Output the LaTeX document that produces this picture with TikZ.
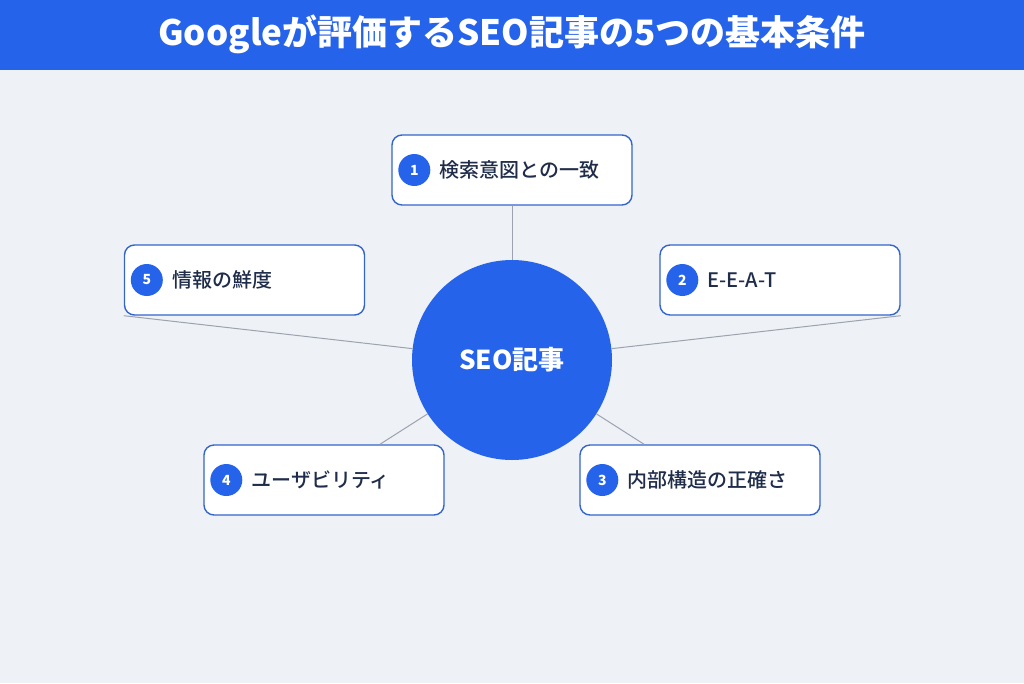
\documentclass[tikz,border=0pt]{standalone}
\usepackage{fontspec}
\setmainfont{Noto Sans CJK JP}
\newfontfamily\jpmed{Noto Sans CJK JP Medium}
\newfontfamily\jpblack{Noto Sans CJK JP Black}
\definecolor{bgc}{HTML}{EEF1F6}
\definecolor{bluec}{HTML}{2563EB}
\definecolor{borderc}{HTML}{3465CC}
\definecolor{textc}{HTML}{1F2D4A}
\definecolor{linec}{HTML}{9CA3AF}
\tikzset{
  itembox/.style={draw=borderc, line width=1.4pt, fill=white, rounded corners=10pt,
    minimum width=240pt, minimum height=70pt, inner sep=0pt},
  badge/.style={circle, fill=bluec, minimum size=32pt, inner sep=0pt,
    text=white, font=\fontsize{14pt}{16pt}\selectfont\bfseries},
  itemtext/.style={anchor=west, text=textc, inner sep=0pt,
    font=\fontsize{20pt}{24pt}\jpmed},
  conn/.style={draw=linec, line width=1pt},
}
\begin{document}
\begin{tikzpicture}[x=1pt,y=-1pt]
\fill[bgc] (0,0) rectangle (1024,683);
\useasboundingbox (0,0) rectangle (1024,683);
\fill[bluec] (0,0) rectangle (1024,70);
\node[text=white, font=\fontsize{35pt}{38pt}\jpblack, inner sep=0pt] (title) at (512,34) {Googleが評価するSEO記事の5つの基本条件};

\node[circle, fill=bluec, minimum size=200pt, inner sep=0pt] (c) at (512,360) {};
\node[text=white, font=\fontsize{26pt}{30pt}\selectfont\bfseries, inner sep=0pt] (ct) at (512,360) {SEO記事};

\node[itembox] (b1) at (512,170) {};
\node[itembox] (b2) at (780,280) {};
\node[itembox] (b3) at (700,480) {};
\node[itembox] (b4) at (324,480) {};
\node[itembox] (b5) at (244.5,280) {};

\draw[conn] (b1) -- (c);
\draw[conn] (c) -- (b2.south east);
\draw[conn] (c) -- (b3);
\draw[conn] (c) -- (b4);
\draw[conn] (c) -- (b5.south west);

\node[badge] (n1) at ([xshift=23pt]b1.west) {1};
\node[itemtext] (t1) at ([xshift=48pt]b1.west) {検索意図との一致};
\node[badge] (n2) at ([xshift=23pt]b2.west) {2};
\node[itemtext] (t2) at ([xshift=48pt]b2.west) {E-E-A-T};
\node[badge] (n3) at ([xshift=23pt]b3.west) {3};
\node[itemtext] (t3) at ([xshift=48pt]b3.west) {内部構造の正確さ};
\node[badge] (n4) at ([xshift=23pt]b4.west) {4};
\node[itemtext] (t4) at ([xshift=48pt]b4.west) {ユーザビリティ};
\node[badge] (n5) at ([xshift=23pt]b5.west) {5};
\node[itemtext] (t5) at ([xshift=48pt]b5.west) {情報の鮮度};
\end{tikzpicture}
\end{document}
